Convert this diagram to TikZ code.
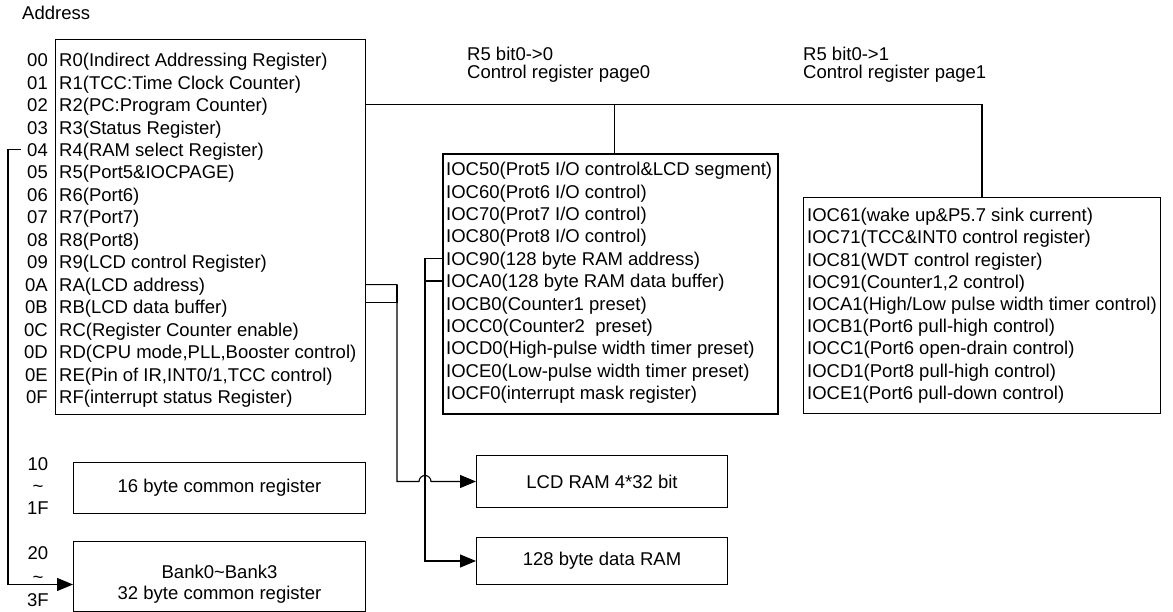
\documentclass[tikz,border=0pt]{standalone}
\usepackage{fontspec}
\setmainfont{Liberation Sans}
\usepackage{tikz}
\usetikzlibrary{arrows.meta,calc}

\begin{document}
\begin{tikzpicture}[
  x=1pt, y=-1pt,
  font=\fontsize{18.5pt}{22.4pt}\selectfont,
  >={Triangle[length=16pt,width=13pt]},
  box/.style={draw, line width=1pt, anchor=north west, inner sep=0pt},
  row/.style={anchor=west, inner sep=0pt, text height=13.3pt, text depth=0pt},
  adr/.style={row, anchor=east},
  hdr/.style={anchor=north west, align=left, inner sep=0pt, font=\fontsize{18.5pt}{18pt}\selectfont},
  wire/.style={line width=1.1pt},
  arr/.style={->, line width=1.1pt},
]
\useasboundingbox (0,0) rectangle (1173,612);
\node[row] (title) at (22,13) {Address};
\node[hdr] (hdr0) at (467,46.5) {R5 bit0->0\\Control register page0};
\node[hdr] (hdr1) at (803,46.5) {R5 bit0->1\\Control register page1};
% register file
\node[box, minimum width=310pt, minimum height=375pt] (main) at (55,39) {};
\foreach \a/\t [count=\i from 0] in {00/{R0(Indirect Addressing Register)}, 01/{R1(TCC:Time Clock Counter)},
    02/{R2(PC:Program Counter)}, 03/{R3(Status Register)}, 04/{R4(RAM select Register)},
    05/{R5(Port5\&IOCPAGE)}, 06/{R6(Port6)}, 07/{R7(Port7)}, 08/{R8(Port8)},
    09/{R9(LCD control Register)}, 0A/{RA(LCD address)}, 0B/{RB(LCD data buffer)},
    0C/{RC(Register Counter enable)}, 0D/{RD(CPU mode,PLL,Booster control)},
    0E/{RE(Pin of IR,INT0/1,TCC control)}, 0F/{RF(interrupt status Register)}}{
  \node[adr] (adr\a) at (48,60+22.47*\i) {\a};
  \node[row] (reg\a) at (59,60+22.47*\i) {\t};
}
% control register page0
\node[box, line width=2pt, minimum width=335pt, minimum height=260pt] (page0) at (442,153) {};
\foreach \c/\t [count=\i from 0] in {50/{(Prot5 I/O control\&LCD segment)}, 60/{(Prot6 I/O control)},
    70/{(Prot7 I/O control)}, 80/{(Prot8 I/O control)}, 90/{(128 byte RAM address)},
    A0/{(128 byte RAM data buffer)}, B0/{(Counter1 preset)}, C0/{(Counter2\ \ preset)},
    D0/{(High-pulse width timer preset)}, E0/{(Low-pulse width timer preset)},
    F0/{(interrupt mask register)}}{
  \node[row] (ioc\c) at (446,169+22.4*\i) {IOC\c\t};
}
% control register page1
\node[box, minimum width=357pt, minimum height=216pt] (page1) at (803,197) {};
\foreach \c/\t [count=\i from 0] in {61/{(wake up\&P5.7 sink current)}, 71/{(TCC\&INT0 control register)},
    81/{(WDT control register)}, 91/{(Counter1,2 control)},
    A1/{(High/Low pulse width timer control)}, B1/{(Port6 pull-high control)},
    C1/{(Port6 open-drain control)}, D1/{(Port8 pull-high control)},
    E1/{(Port6 pull-down control)}}{
  \node[row] (ioc\c) at (807,215+22.2*\i) {IOC\c\t};
}
% memories
\node[align=center, inner sep=0pt] (adr10) at (38,486) {10\\\textasciitilde\\1F};
\node[box, minimum width=292pt, minimum height=51pt] (com16) at (73,462) {16 byte common register};
\node[align=center, inner sep=0pt, font=\fontsize{18.5pt}{23.5pt}\selectfont] (adr20) at (38,577) {20\\\textasciitilde\\3F};
\node[box, minimum width=292pt, minimum height=70pt] (bank) at (73,541) {};
\node[align=center, inner sep=0pt, font=\fontsize{18.5pt}{21pt}\selectfont] (banktxt) at ([yshift=-8pt]bank.center) {Bank0\textasciitilde Bank3\\32 byte common register};
\node[box, minimum width=251pt, minimum height=52pt] (lcd) at (476,455) {LCD RAM 4*32 bit};
\node[box, minimum width=251pt, minimum height=47pt] (ram) at (476,537) {128 byte data RAM};
\coordinate (lbus) at (8,0);
\coordinate (lcdbus) at (397,0);
\coordinate (rambus) at (425,0);
\coordinate (hop) at (rambus |- lcd.west);
\coordinate (bankin) at ([yshift=-8pt]bank.west);
% connections
\draw[wire] (main.east |- reg02.west) -| (page1.north);
\draw[wire] ([xshift=4pt]page0.north) -- ([xshift=4pt]page0.north |- reg02.west);
\draw[wire] (page0.west |- ioc90.west) -| (rambus |- iocA0.west);
\draw[arr] (page0.west |- iocA0.west) -| (rambus |- ram.west) -- (ram.west);
\draw[wire] ([yshift=5pt]main.east |- reg0B.west) -| (lcdbus |- reg0A.west);
\draw[arr] (main.east |- reg0A.west) -| (lcdbus |- lcd.west) -- ([xshift=-6pt]hop) arc[start angle=180, end angle=0, radius=6pt] -- (lcd.west);
\draw[arr] ([xshift=-6pt]adr04.west) -| (lbus |- bankin) -- (bankin);
\end{tikzpicture}
\end{document}
